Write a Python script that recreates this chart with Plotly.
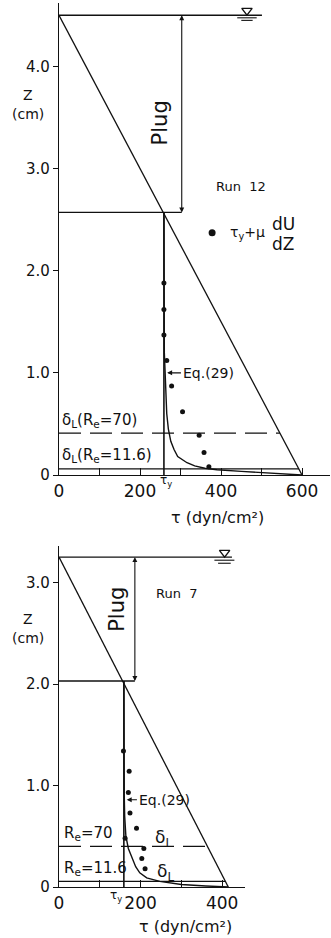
import plotly.graph_objects as go

# ---------------- Run 12 ----------------
r12_depth = 4.5            # flow depth h (cm)
r12_tau_bed = 600          # bed shear stress (dyn/cm2)
r12_tau_y = 259            # yield stress
r12_plug_z = 2.57          # bottom of the plug (cm)
r12_dots_tau = [259, 259, 259, 266, 278, 305, 346, 358, 370]
r12_dots_z = [1.88, 1.62, 1.37, 1.12, 0.87, 0.62, 0.39, 0.22, 0.08]
r12_eq29_tau = [259, 259, 260, 262, 264, 266, 270, 276, 284, 293, 316, 335, 360, 390, 450, 520, 600]
r12_eq29_z = [2.57, 1.4, 1.2, 1.0, 0.8, 0.6, 0.45, 0.33, 0.25, 0.18, 0.12, 0.09, 0.066, 0.052, 0.035, 0.018, 0.0]
r12_delta70 = 0.41
r12_delta116 = 0.06

# ---------------- Run 7 ----------------
r7_depth = 3.25
r7_tau_bed = 415
r7_tau_y = 159
r7_plug_z = 2.03
r7_dots_tau = [158, 172, 170, 174, 190, 162, 208, 203, 211]
r7_dots_z = [1.34, 1.14, 0.93, 0.73, 0.58, 0.48, 0.38, 0.28, 0.18]
r7_eq29_tau = [159, 159, 160, 161, 164, 170, 178, 188, 198, 215, 247, 300, 360, 415]
r7_eq29_z = [2.03, 1.1, 0.9, 0.7, 0.5, 0.38, 0.3, 0.2, 0.14, 0.09, 0.055, 0.025, 0.01, 0.0]
r7_delta70 = 0.40
r7_delta116 = 0.055

x_tick_vals_12 = [0, 100, 200, 300, 400, 500, 600]
x_tick_text_12 = ["0", "", "200", "", "400", "", "600"]
x_tick_vals_7 = [0, 100, 200, 300, 400]
x_tick_text_7 = ["0", "", "200", "", "400"]
y_tick_vals_12 = [0, 1, 2, 3, 4]
y_tick_text_12 = ["0", "1.0", "2.0", "3.0", "4.0"]
y_tick_vals_7 = [0, 1, 2, 3]
y_tick_text_7 = ["0", "1.0", "2.0", "3.0"]

W, H = 331, 938
FONT = "DejaVu Sans"
LW = 1.3
BLACK = "#111111"

fig = go.Figure()


def line(xs, ys, xa, ya, width=LW, dash=None):
    fig.add_trace(go.Scatter(x=xs, y=ys, xaxis=xa, yaxis=ya, mode="lines",
                             line=dict(color=BLACK, width=width, dash=dash),
                             showlegend=False, hoverinfo="skip"))


def panel(xa, ya, h, tau_bed, tau_y, plug_z, plug_x, surf_end, nabla_x,
          dots_tau, dots_z, eq_tau, eq_z, d70, d116):
    # linear shear stress distribution tau = tau_bed (1 - z/h)
    line([0, tau_bed], [h, 0], xa, ya)
    # water surface
    line([0, surf_end], [h, h], xa, ya)
    # plug bottom
    line([0, plug_x], [plug_z, plug_z], xa, ya)
    # yield stress line
    line([tau_y, tau_y], [plug_z, 0], xa, ya, width=1.6)
    # Eq.(29)
    line(eq_tau, eq_z, xa, ya, width=1.4)
    # sub-layer thicknesses
    line([0, tau_bed * (1 - d70 / h)], [d70, d70], xa, ya, dash="22px,9px")
    line([0, tau_bed * (1 - d116 / h)], [d116, d116], xa, ya)
    # measured values
    fig.add_trace(go.Scatter(x=dots_tau, y=dots_z, xaxis=xa, yaxis=ya, mode="markers",
                             marker=dict(color=BLACK, size=5),
                             showlegend=False, hoverinfo="skip"))
    # free-surface symbol
    fig.add_trace(go.Scatter(x=[nabla_x], y=[h + 0.045], xaxis=xa, yaxis=ya, mode="markers",
                             marker=dict(symbol="triangle-down-open", color=BLACK, size=9,
                                         line=dict(width=1.4, color=BLACK)),
                             showlegend=False, hoverinfo="skip"))


panel("x", "y", r12_depth, r12_tau_bed, r12_tau_y, r12_plug_z, 303, 501, 464,
      r12_dots_tau, r12_dots_z, r12_eq29_tau, r12_eq29_z, r12_delta70, r12_delta116)
line([440, 488], [4.475, 4.475], "x", "y", width=1.1)
line([450, 478], [4.45, 4.45], "x", "y", width=1.1)

panel("x2", "y2", r7_depth, r7_tau_bed, r7_tau_y, r7_plug_z, 186, 424, 406,
      r7_dots_tau, r7_dots_z, r7_eq29_tau, r7_eq29_z, r7_delta70, r7_delta116)
line([381, 430], [3.22, 3.22], "x2", "y2", width=1.1)
line([390, 421], [3.19, 3.19], "x2", "y2", width=1.1)

# legend marker (Run 12)
fig.add_trace(go.Scatter(x=[378], y=[2.37], xaxis="x", yaxis="y", mode="markers",
                         marker=dict(color=BLACK, size=7), showlegend=False, hoverinfo="skip"))

axis_common = dict(showgrid=False, zeroline=False, showline=True, linecolor=BLACK,
                   linewidth=LW, tickcolor=BLACK, tickwidth=1.1, automargin=False,
                   fixedrange=True)

fig.update_layout(
    width=W, height=H,
    margin=dict(l=0, r=0, t=0, b=0),
    paper_bgcolor="white", plot_bgcolor="white",
    showlegend=False,
    font=dict(family=FONT, color=BLACK),
    xaxis=dict(domain=[59 / W, 330 / W], range=[0, 669], anchor="y",
               tickvals=x_tick_vals_12, ticktext=x_tick_text_12,
               ticks="inside", ticklen=7, tickfont=dict(size=17, family=FONT), **axis_common),
    yaxis=dict(domain=[1 - 475 / H, 1 - 3 / H], range=[0, 4.62], anchor="x",
               tickvals=y_tick_vals_12, ticktext=y_tick_text_12,
               ticks="outside", ticklen=5, tickfont=dict(size=15, family=FONT), **axis_common),
    xaxis2=dict(domain=[59 / W, 245 / W], range=[0, 456], anchor="y2",
                tickvals=x_tick_vals_7, ticktext=x_tick_text_7,
                ticks="inside", ticklen=7, tickfont=dict(size=17, family=FONT), **axis_common),
    yaxis2=dict(domain=[1 - 887 / H, 1 - 546 / H], range=[0, 3.36], anchor="x2",
                tickvals=y_tick_vals_7, ticktext=y_tick_text_7,
                ticks="outside", ticklen=5, tickfont=dict(size=15, family=FONT), **axis_common),
)


def text(t, x, y, xref, yref, size=14, xanchor="center", yanchor="middle", angle=0):
    fig.add_annotation(text=t, x=x, y=y, xref=xref, yref=yref, showarrow=False,
                       xanchor=xanchor, yanchor=yanchor, textangle=angle,
                       font=dict(size=size, family=FONT, color=BLACK))


def arrow(x, y, ax, ay, xref, yref, both=False, t="", size=14, xanchor="left"):
    fig.add_annotation(text=t, x=x, y=y, ax=ax, ay=ay, xref=xref, yref=yref,
                       axref=xref, ayref=yref, showarrow=True,
                       arrowhead=2, arrowsize=0.9, arrowwidth=1.1, arrowcolor=BLACK,
                       arrowside="end+start" if both else "end",
                       xanchor=xanchor, font=dict(size=size, family=FONT, color=BLACK))


# ---- Run 12 labels ----
arrow(303, r12_depth, 303, r12_plug_z, "x", "y", both=True)
text("Plug", 249, 3.45, "x", "y", size=21, angle=-90)
text("Run  12", 449, 2.82, "x", "y", size=13)
text("τ<sub>y</sub>+μ", 418, 2.37, "x", "y", size=14, xanchor="left")
text("dU", 553, 2.46, "x", "y", size=17)
text("dZ", 553, 2.26, "x", "y", size=17)
arrow(267, 1.0, 301, 1.0, "x", "y", t="Eq.(29)", size=14)
text("δ<sub>L</sub>(R<sub>e</sub>=70)", 2, 0.425, "x", "y", size=15,
     xanchor="left", yanchor="bottom")
text("δ<sub>L</sub>(R<sub>e</sub>=11.6)", 2, 0.075, "x", "y", size=15,
     xanchor="left", yanchor="bottom")
text("τ<sub>y</sub>", 166 / W, 1 - 481 / H, "paper", "paper", size=12)
text("Z", 28 / W, 1 - 95 / H, "paper", "paper", size=14)
text("(cm)", 28 / W, 1 - 114 / H, "paper", "paper", size=14)
text("τ (dyn/cm²)", 218 / W, 1 - 517 / H, "paper", "paper", size=16)

# ---- Run 7 labels ----
arrow(186, r7_depth, 186, r7_plug_z, "x2", "y2", both=True)
text("Plug", 142, 2.74, "x2", "y2", size=21, angle=-90)
text("Run  7", 289, 2.89, "x2", "y2", size=13)
arrow(166, 0.86, 191, 0.86, "x2", "y2", t="Eq.(29)", size=14)
text("R<sub>e</sub>=70", 8, 0.415, "x2", "y2", size=15, xanchor="left", yanchor="bottom")
text("R<sub>e</sub>=11.6", 8, 0.07, "x2", "y2", size=15, xanchor="left", yanchor="bottom")
text("δ<sub>L</sub>", 255, 0.48, "x2", "y2", size=17)
text("δ<sub>L</sub>", 260, 0.14, "x2", "y2", size=17)
text("τ<sub>y</sub>", 116 / W, 1 - 896 / H, "paper", "paper", size=12)
text("Z", 28 / W, 1 - 619 / H, "paper", "paper", size=14)
text("(cm)", 28 / W, 1 - 638 / H, "paper", "paper", size=14)
text("τ (dyn/cm²)", 185 / W, 1 - 926 / H, "paper", "paper", size=16)

fig.write_html("out.html")
